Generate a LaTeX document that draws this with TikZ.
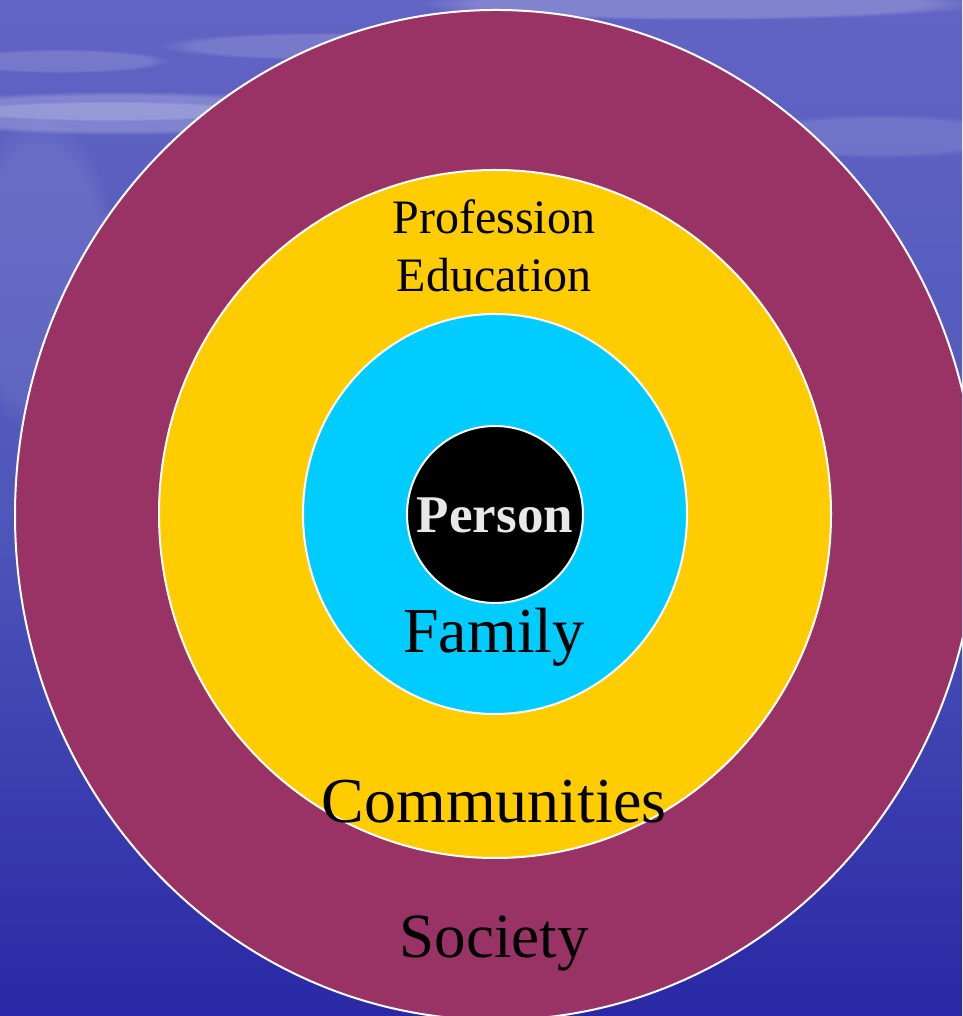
\documentclass[tikz,border=0pt]{standalone}
\usepackage{fontspec}
\setmainfont{Liberation Serif}
\usetikzlibrary{shapes.geometric,fadings}
\definecolor{bgtop}{RGB}{98,100,196}
\definecolor{bgmid}{RGB}{78,88,186}
\definecolor{bgbot}{RGB}{42,40,166}
\definecolor{maroon}{RGB}{153,51,102}
\definecolor{gold}{RGB}{255,204,0}
\definecolor{sky}{RGB}{0,204,255}
\definecolor{ltgray}{RGB}{232,232,232}
\tikzset{
  ring/.style={ellipse, draw=white, line width=2pt, inner sep=0pt, outer sep=0pt},
  lbl/.style={anchor=base, inner sep=0pt, text=black},
  streak/.style={fill=white, path fading=circle with fuzzy edge 20 percent}
}
\begin{document}
\begin{tikzpicture}[x=1pt,y=1pt]
\useasboundingbox (0,0) rectangle (962,1016);
\begin{scope}
\clip (0,0) rectangle (962,1016);
\shade[top color=bgtop, bottom color=bgbot, middle color=bgmid] (0,0) rectangle (962,1016);
% cloudy streaks
\fill[streak, opacity=0.22] (120,903) ellipse (230 and 22);
\fill[streak, opacity=0.18] (110,905) ellipse (150 and 10);
\fill[streak, opacity=0.15] (330,970) ellipse (170 and 14);
\fill[streak, opacity=0.15] (60,955) ellipse (110 and 12);
\fill[streak, opacity=0.2] (700,1012) ellipse (280 and 16);
\fill[streak, opacity=0.12] (880,880) ellipse (140 and 22);
\fill[streak, opacity=0.08] (40,740) ellipse (80 and 160);
% rings
\node[ring, fill=maroon, minimum width=962, minimum height=1010] (society) at (496,501) {};
\node[ring, fill=gold, minimum width=672, minimum height=688] (communities) at (495,502) {};
\node[ring, fill=sky, minimum width=384, minimum height=400] (family) at (495,502) {};
\node[ring, fill=black, minimum width=176, minimum height=177] (person) at (495,501.5) {};
\end{scope}
% labels
\node[lbl, font=\fontsize{48}{58}\selectfont] (prof) at (494,782) {Profession};
\node[lbl, font=\fontsize{48}{58}\selectfont] (edu) at (494,724) {Education};
\node[lbl, font=\fontsize{53}{60}\selectfont\bfseries, text=ltgray] (personlbl) at (495,483) {Person};
\node[lbl, font=\fontsize{64}{72}\selectfont] (familylbl) at (494,363) {Family};
\node[lbl, font=\fontsize{64}{72}\selectfont] (commlbl) at (494,193) {Communities};
\node[lbl, font=\fontsize{63}{72}\selectfont] (societylbl) at (494,58) {Society};
\end{tikzpicture}
\end{document}
